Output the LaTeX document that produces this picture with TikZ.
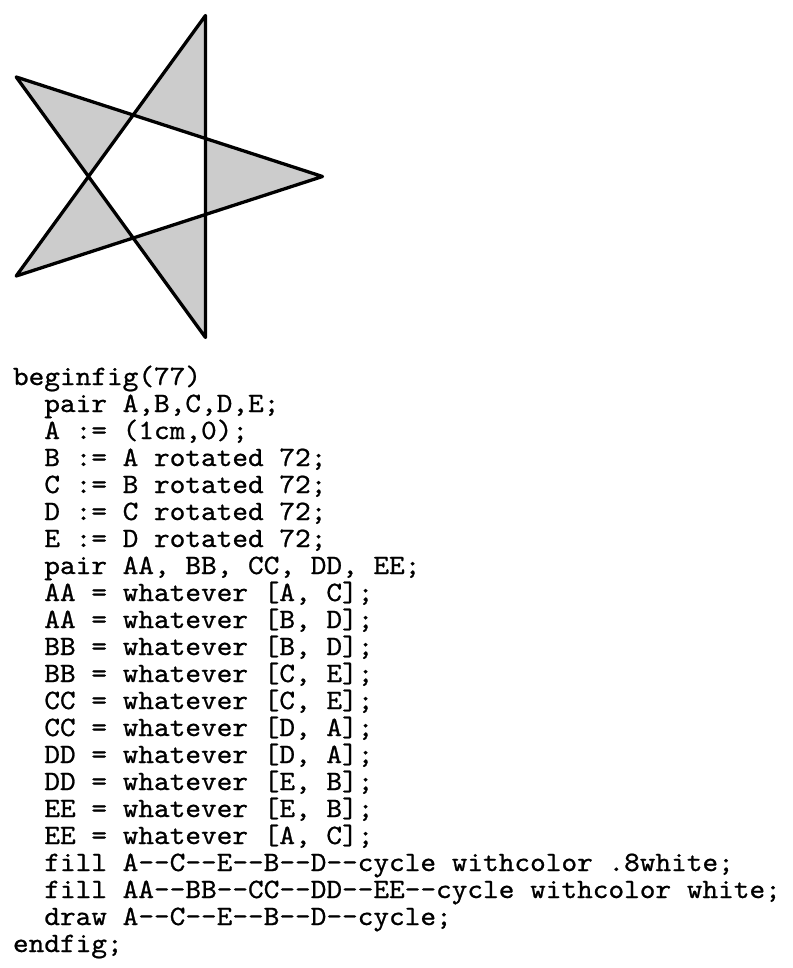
\documentclass[tikz,border=0pt]{standalone}
\usepackage{fontspec}
\newfontfamily\codefont{lmmono10-regular.otf}[FakeBold=0.8]
\definecolor{starfill}{rgb}{0.8,0.8,0.8}
\begin{document}
\begin{tikzpicture}[x=1pt,y=-1pt,
  code/.style={anchor=base west, inner sep=0pt, outer sep=0pt,
    font=\codefont\fontsize{28}{27}\selectfont, xscale=1.066, transform shape},
  starline/.style={line width=3.3pt, line join=round, draw=black}]
\useasboundingbox (0,0) rectangle (792,968);
% star vertices
\coordinate (A) at (322.5,176.5);
\coordinate (B) at (205.5,15.5);
\coordinate (C) at (16.2,77.0);
\coordinate (D) at (16.2,276.0);
\coordinate (E) at (205.5,337.5);
\coordinate (AA) at (intersection of A--C and B--D);
\coordinate (BB) at (intersection of B--D and C--E);
\coordinate (CC) at (intersection of C--E and D--A);
\coordinate (DD) at (intersection of D--A and E--B);
\coordinate (EE) at (intersection of E--B and A--C);
\fill[starfill] (A) -- (C) -- (E) -- (B) -- (D) -- cycle;
\fill[white] (AA) -- (BB) -- (CC) -- (DD) -- (EE) -- cycle;
\draw[starline] (A) -- (C) -- (E) -- (B) -- (D) -- cycle;
% code listing
\node[code] (l1)  at (13,385) {beginfig(77)};
\node[code] (l2)  at (13,412) {\phantom{xx}pair A,B,C,D,E;};
\node[code] (l3)  at (13,439) {\phantom{xx}A := (1cm,0);};
\node[code] (l4)  at (13,466) {\phantom{xx}B := A rotated 72;};
\node[code] (l5)  at (13,493) {\phantom{xx}C := B rotated 72;};
\node[code] (l6)  at (13,520) {\phantom{xx}D := C rotated 72;};
\node[code] (l7)  at (13,547) {\phantom{xx}E := D rotated 72;};
\node[code] (l8)  at (13,574) {\phantom{xx}pair AA, BB, CC, DD, EE;};
\node[code] (l9)  at (13,601) {\phantom{xx}AA = whatever [A, C];};
\node[code] (l10) at (13,628) {\phantom{xx}AA = whatever [B, D];};
\node[code] (l11) at (13,655) {\phantom{xx}BB = whatever [B, D];};
\node[code] (l12) at (13,682) {\phantom{xx}BB = whatever [C, E];};
\node[code] (l13) at (13,709) {\phantom{xx}CC = whatever [C, E];};
\node[code] (l14) at (13,736) {\phantom{xx}CC = whatever [D, A];};
\node[code] (l15) at (13,763) {\phantom{xx}DD = whatever [D, A];};
\node[code] (l16) at (13,790) {\phantom{xx}DD = whatever [E, B];};
\node[code] (l17) at (13,817) {\phantom{xx}EE = whatever [E, B];};
\node[code] (l18) at (13,844) {\phantom{xx}EE = whatever [A, C];};
\node[code] (l19) at (13,871) {\phantom{xx}fill A-{}-C-{}-E-{}-B-{}-D-{}-cycle withcolor .8white;};
\node[code] (l20) at (13,898) {\phantom{xx}fill AA-{}-BB-{}-CC-{}-DD-{}-EE-{}-cycle withcolor white;};
\node[code] (l21) at (13,925) {\phantom{xx}draw A-{}-C-{}-E-{}-B-{}-D-{}-cycle;};
\node[code] (l22) at (13,952) {endfig;};
\end{tikzpicture}
\end{document}
